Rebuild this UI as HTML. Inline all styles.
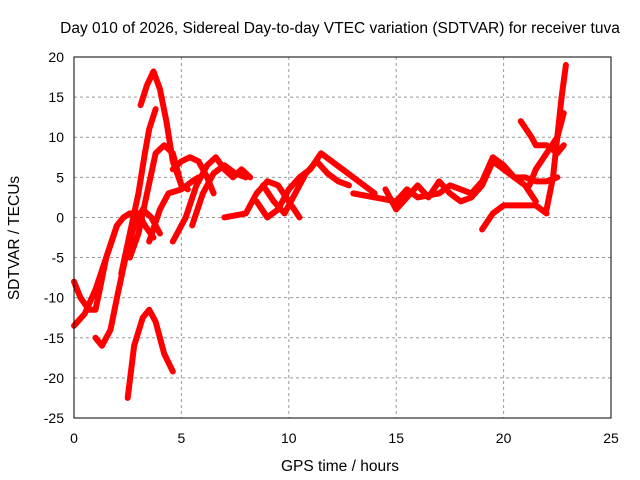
<!DOCTYPE html>
<html><head><meta charset="utf-8"><style>
body{margin:0;background:#fff}
svg{display:block;font-family:"Liberation Sans",sans-serif}
</style></head><body>
<svg id="c" width="640" height="480" viewBox="0 0 640 480">
<rect width="640" height="480" fill="#fff"/>
<text x="340" y="33" font-size="15.5" text-anchor="middle">Day 010 of 2026, Sidereal Day-to-day VTEC variation (SDTVAR) for receiver tuva</text>
<text x="340" y="471" font-size="15.5" text-anchor="middle">GPS time / hours</text>
<text x="19" y="238" font-size="15.5" text-anchor="middle" transform="rotate(-90 19 238)">SDTVAR / TECUs</text>
<g id="grid"></g>
<g id="marks"></g>
<rect x="74" y="57" width="537" height="361" fill="none" stroke="#000"/>
<g id="ticks"></g>
</svg>
<script>
const xTicks=[0,5,10,15,20,25];
const yTicks=[20,15,10,5,0,-5,-10,-15,-20,-25];
const tracks=[
[[0,-13.5],[0.5,-12],[1,-9],[1.5,-5],[2,-1],[2.3,0],[2.6,0.5],[3,0.5],[3.3,-1],[3.7,-2.5]],
[[3.1,14],[3.4,16.5],[3.7,18.2],[4,16],[4.3,12],[4.6,7],[5,4],[5.3,3.5]],
[[2.2,-7],[2.6,-2],[3,3],[3.3,8],[3.5,11],[3.8,13.5]],
[[2.6,-5],[3,-2],[3.4,3],[3.8,8],[4.2,9],[4.6,8],[5,4]],
[[1,-15],[1.3,-16],[1.7,-14],[2,-10],[2.4,-5],[2.8,-1],[3.2,1],[3.6,0],[4,-2]],
[[0,-8],[0.3,-10],[0.7,-11.5],[1,-11.5],[1.2,-9],[1.5,-5],[2,-1]],
[[2.5,-22.5],[2.8,-16],[3.2,-12.5],[3.5,-11.5],[3.8,-13],[4.2,-17],[4.6,-19.2]],
[[3.5,-3],[4,1],[4.4,3],[5,3.5],[5.5,4.5],[5.8,5]],
[[4.6,-3],[5.2,0],[5.7,4],[6.2,6.5],[6.6,7.5],[7,6],[7.4,5],[7.8,6],[8.2,5]],
[[5.5,-1],[6,3],[6.5,5.5],[7,6.5],[7.5,5.5],[8,5]],
[[4.6,6],[5,7],[5.4,7.5],[5.8,7],[6.2,5],[6.5,3]],
[[7,0],[8,0.5],[8.5,3],[9,4.5],[9.5,4],[10,2],[10.5,0]],
[[8.5,2],[9,0],[9.5,1],[10,3.5],[10.5,5],[11,6],[11.5,8],[12,7],[12.5,6],[13,5],[13.5,4],[14,3]],
[[8.8,4],[9.3,2],[9.8,0.5],[10.3,3],[10.8,5.5],[11.3,7],[11.8,5.5],[12.3,4.5],[12.8,4]],
[[13,3],[14,2.5],[15,2],[15.5,3.5],[16,2.5],[17,3],[17.5,4],[18,3.5],[18.5,3],[19,4.5],[19.5,7.5],[20,6.5],[20.5,5],[21,5],[21.5,4.5],[22,4.5],[22.5,5]],
[[14.5,3.5],[15,1],[15.5,2.5],[16,4],[16.5,2.5],[17,4.5],[17.5,3],[18,2],[18.5,2.5],[19,4],[19.5,7],[20,6],[20.5,5],[21,4],[21.5,2]],
[[19,-1.5],[19.5,0.5],[20,1.5],[20.5,1.5],[21,1.5],[21.5,1.5],[22,0.5]],
[[20.8,12],[21.3,10],[21.5,9],[22,9],[22.5,8],[22.8,9]],
[[21.2,4],[21.5,6],[22,8],[22.5,10],[22.8,13]],
[[22,1],[22.3,5],[22.5,10],[22.7,15],[22.9,19]]
];
const X=h=>74+h*537/25, Y=v=>57+(20-v)*361/45;
const NS="http://www.w3.org/2000/svg";
const g=document.getElementById('grid'), tk=document.getElementById('ticks'), m=document.getElementById('marks');
function el(t,a,p){const e=document.createElementNS(NS,t);for(const k in a)e.setAttribute(k,a[k]);p.appendChild(e);return e;}
xTicks.forEach(t=>{
 if(t>0&&t<25){const l=el('line',{x1:X(t),x2:X(t),y1:57,y2:418,stroke:'#999','stroke-dasharray':'3,3'},g);
 
 }
 const s=el('text',{x:X(t),y:443,'font-size':14,'text-anchor':'middle'},tk);s.textContent=t;
 
 
});
yTicks.forEach(t=>{
 if(t<20&&t>-25){const l=el('line',{x1:74,x2:611,y1:Y(t),y2:Y(t),stroke:'#999','stroke-dasharray':'3,3'},g);
 
 }
 const s=el('text',{x:64,y:Y(t)+5,'font-size':14,'text-anchor':'end'},tk);s.textContent=t;
 
 
});
tracks.forEach((tr,i)=>{
 const p=el('polyline',{points:tr.map(d=>X(d[0])+','+Y(d[1])).join(' '),fill:'none',stroke:'#f00','stroke-width':6,'stroke-linejoin':'round','stroke-linecap':'round'},m);
 
 
});
</script>
</body></html>
